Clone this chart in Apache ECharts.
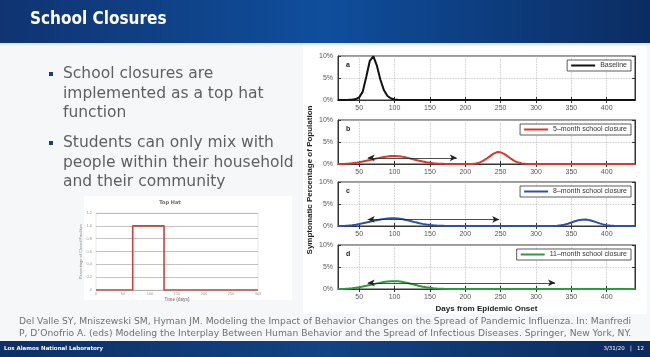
<!DOCTYPE html>
<html>
<head>
<meta charset="utf-8">
<script src="https://cdn.jsdelivr.net/npm/echarts@6/dist/echarts.min.js"></script>
<style>html,body{margin:0;padding:0;background:#f5f7f9;}#c{width:650px;height:357px;}</style>
</head>
<body>
<div id="c"></div>
<script>
// ---- data ----
const days = [20,25,30,35,40,45,50,55,60,65,
  70,75,80,85,90,95,100,105,110,115,
  120,125,130,135,140,145,150,155,160,165,
  170,175,180,185,190,195,200,205,210,215,
  220,225,230,235,240,245,250,255,260,265,
  270,275,280,285,290,295,300,305,310,315,
  320,325,330,335,340,345,350,355,360,365,
  370,375,380,385,390,395,400,405,410,415,
  420,425,430,435,440];
const baseline = [0,0,0.01,0.03,0.08,0.22,0.6,1.9,5.3,8.9,
  9.9,7.8,4.6,2.2,0.9,0.35,0.12,0.04,0.01,0,
  0,0,0,0,0,0,0,0,0,0,
  0,0,0,0,0,0,0,0,0,0,
  0,0,0,0,0,0,0,0,0,0,
  0,0,0,0,0,0,0,0,0,0,
  0,0,0,0,0,0,0,0,0,0,
  0,0,0,0,0,0,0,0,0,0,
  0,0,0,0,0];
const closure5 = [0,0.02,0.05,0.1,0.18,0.28,0.42,0.58,0.75,0.92,
  1.1,1.28,1.45,1.6,1.72,1.8,1.82,1.78,1.68,1.52,
  1.33,1.12,0.92,0.72,0.55,0.4,0.28,0.18,0.11,0.07,
  0.04,0.02,0.01,0,0,0,0,0,0.02,0.1,
  0.3,0.7,1.2,1.8,2.35,2.7,2.65,2.3,1.75,1.15,
  0.65,0.32,0.14,0.05,0.02,0,0,0,0,0,
  0,0,0,0,0,0,0,0,0,0,
  0,0,0,0,0,0,0,0,0,0,
  0,0,0,0,0];
const closure8 = [0,0.02,0.05,0.1,0.18,0.3,0.45,0.62,0.8,0.98,
  1.16,1.33,1.48,1.62,1.72,1.77,1.76,1.7,1.58,1.42,
  1.23,1.03,0.83,0.64,0.48,0.35,0.24,0.16,0.1,0.06,
  0.03,0.02,0.01,0,0,0,0,0,0,0,
  0,0,0,0,0,0,0,0,0,0,
  0,0,0,0,0,0,0,0,0,0,
  0,0.02,0.06,0.15,0.3,0.52,0.8,1.08,1.3,1.44,
  1.46,1.36,1.15,0.88,0.6,0.36,0.2,0.1,0.04,0.02,
  0.01,0,0,0,0];
const closure11 = [0,0.02,0.05,0.1,0.17,0.27,0.4,0.56,0.74,0.92,
  1.1,1.28,1.44,1.58,1.68,1.75,1.78,1.74,1.64,1.49,
  1.3,1.1,0.9,0.7,0.52,0.38,0.26,0.17,0.1,0.06,
  0.03,0.02,0.01,0,0,0,0,0,0,0,
  0,0,0,0,0,0,0,0,0,0,
  0,0,0,0,0,0,0,0,0,0,
  0,0,0,0,0,0,0,0,0,0,
  0,0,0,0,0,0,0,0,0,0,
  0,0,0,0,0];
const seriesNames = ['Baseline','5\u2013month school closure','8\u2013month school closure','11\u2013month school closure'];
const panelLetters = ['a','b','c','d'];
const xTicks = [50,100,150,200,250,300,350,400];
// closure-duration arrows (panels b, c, d)
const arrowStart = [62,62,62];
const arrowEnd = [188,248,327];
const arrowLevel = [1.4,1.5,1.4];
// top hat inset
const hatDays = [0,68,68,126,126,300];
const hatValues = [0,0,1,1,0,0];

// ---- layout / style ----
const seriesData = [baseline, closure5, closure8, closure11];
const colors = ['#111111','#d8392c','#2f52a8','#2e9a3c'];
const gridTops = [56,120,182,245];
const gridH = 44;
const gLeft = 338, gRight = 15;
const txt = '#555';

const chart = echarts.init(document.getElementById('c'), null, {renderer:'canvas'});

const grid = [], xAxis = [], yAxis = [], series = [], legend = [];
gridTops.forEach((t, i) => {
  grid.push({left:gLeft, right:gRight, top:t, height:gridH, show:true, backgroundColor:'#fff', borderColor:'#333', borderWidth:1});
  xAxis.push({gridIndex:i, type:'value', min:20, max:440,
    axisLine:{show:true, lineStyle:{color:'#333', width:1}},
    axisTick:{show:true, inside:true, length:3, customValues:xTicks, lineStyle:{color:'#333'}},
    axisLabel:{customValues:xTicks, fontSize:7, color:txt, margin:5, fontFamily:'Liberation Sans'},
    splitLine:{show:true, lineStyle:{type:'dotted', color:'#b8b8b8', width:0.8}},
    name: i === 3 ? 'Days from Epidemic Onset' : '', nameLocation:'middle', nameGap:16,
    nameTextStyle:{fontSize:8, fontWeight:'bold', color:'#222', fontFamily:'Liberation Sans'}});
  xAxis.push({gridIndex:i, type:'value', min:20, max:440, position:'top',
    axisLine:{show:true, lineStyle:{color:'#333'}},
    axisTick:{show:true, inside:true, length:3, customValues:xTicks, lineStyle:{color:'#333'}},
    axisLabel:{show:false}, splitLine:{show:false}});
  yAxis.push({gridIndex:i, type:'value', min:0, max:10, interval:5,
    axisLine:{show:true, lineStyle:{color:'#333'}},
    axisTick:{show:true, inside:true, length:3, lineStyle:{color:'#333'}},
    axisLabel:{formatter:'{value}%', fontSize:7, color:txt, margin:5, fontFamily:'Liberation Sans'},
    splitLine:{show:true, lineStyle:{type:'dotted', color:'#b8b8b8', width:0.8}}});
  yAxis.push({gridIndex:i, type:'value', min:0, max:10, interval:5, position:'right',
    axisLine:{show:true, lineStyle:{color:'#333'}},
    axisTick:{show:true, inside:true, length:3, lineStyle:{color:'#333'}},
    axisLabel:{show:false}, splitLine:{show:false}});
  const s = {name:seriesNames[i], type:'line', xAxisIndex:i*2, yAxisIndex:i*2,
    data: days.map((d, j) => [d, seriesData[i][j]]),
    showSymbol:false, symbol:'none', lineStyle:{color:colors[i], width:2}, itemStyle:{color:colors[i]}, z:3};
  if (i > 0) {
    const k = i - 1;
    s.markLine = {silent:true, symbol:['arrow','arrow'], symbolSize:[5,7], animation:false,
      lineStyle:{color:'#222', width:0.8, type:'solid'}, label:{show:false},
      data:[[{coord:[arrowStart[k], arrowLevel[k]]},{coord:[arrowEnd[k], arrowLevel[k]]}]]};
  }
  series.push(s);
  legend.push({data:[seriesNames[i]], right:19, top:t+4, backgroundColor:'#fff', borderColor:'#333', borderWidth:0.8,
    borderRadius:0, padding:[2,4,2,4], itemWidth:24, itemHeight:2, icon:'rect', itemGap:0, selectedMode:false,
    textStyle:{fontSize:7, color:'#333', fontFamily:'Liberation Sans'}});
});

// top hat inset
grid.push({left:96, right:392, top:213, height:77, show:true, backgroundColor:'#fff', borderColor:'#ccc', borderWidth:0.5});
xAxis.push({gridIndex:4, type:'value', min:0, max:300, interval:50,
  axisLine:{show:true, lineStyle:{color:'#aaa', width:0.6}}, axisTick:{show:false},
  axisLabel:{fontSize:4, color:'#999', margin:2}, splitLine:{show:false},
  name:'Time (days)', nameLocation:'middle', nameGap:7, nameTextStyle:{fontSize:4.5, color:'#888', fontWeight:'bold'}});
yAxis.push({gridIndex:4, type:'value', min:0, max:1.2, interval:0.2,
  axisLine:{show:false}, axisTick:{show:false},
  axisLabel:{fontSize:4, color:'#999', margin:4, formatter: v => (v===0?'0':v.toFixed(1))},
  splitLine:{show:true, lineStyle:{color:'#9a9a9a', width:0.6}},
  name:'Percentage of Closed Facilities', nameLocation:'middle', nameGap:11, nameTextStyle:{fontSize:4, color:'#888'}});
series.push({name:'Top Hat', type:'line', xAxisIndex:8, yAxisIndex:8,
  data: hatDays.map((d, j) => [d, hatValues[j]]), showSymbol:false, symbol:'none',
  lineStyle:{color:'#c8433a', width:1.6}, z:3});

const bulletLines = [
  ['School closures are','implemented as a top hat','function'],
  ['Students can only mix with','people within their household','and their community']
];
const bulletTops = [74, 143];
const graphic = [
  {type:'rect', z:-20, silent:true, shape:{x:0,y:0,width:650,height:357}, style:{fill:'#f5f7f9'}},
  {type:'rect', z:-19, silent:true, shape:{x:303,y:46,width:344,height:268}, style:{fill:'#ffffff'}},
  {type:'rect', z:-19, silent:true, shape:{x:84,y:196,width:208,height:104}, style:{fill:'#ffffff'}},
  {type:'rect', z:-18, silent:true, shape:{x:0,y:0,width:650,height:43},
    style:{fill:new echarts.graphic.LinearGradient(0,0,1,0,[{offset:0,color:'#0f3471'},{offset:0.5,color:'#0f4e9c'},{offset:1,color:'#0b2c62'}])}},
  {type:'rect', z:-18, silent:true, shape:{x:0,y:43,width:650,height:2}, style:{fill:'#dfe9f4'}},
  {type:'text', silent:true, left:30, top:11, style:{text:'School Closures', fill:'#ffffff', font:'bold 17px "DejaVu Sans Condensed", "DejaVu Sans", sans-serif'}},
  {type:'rect', z:-18, silent:true, shape:{x:0,y:341,width:650,height:16},
    style:{fill:new echarts.graphic.LinearGradient(0,0,1,0,[{offset:0,color:'#0e2f66'},{offset:0.5,color:'#114385'},{offset:1,color:'#0c2a5c'}])}},
  {type:'text', silent:true, left:4, top:346, style:{text:'Los Alamos National Laboratory', fill:'#ffffff', font:'bold 5.5px "DejaVu Sans", sans-serif'}},
  {type:'text', silent:true, right:6, top:346, style:{text:'3/31/20   |   12', fill:'#ffffff', font:'5.5px "DejaVu Sans", sans-serif'}},
  {type:'text', silent:true, x:325, y:322, style:{text:'Del Valle SY, Mniszewski SM, Hyman JM. Modeling the Impact of Behavior Changes on the Spread of Pandemic Influenza. In: Manfredi', fill:'#707070', font:'9.2px "DejaVu Sans", sans-serif', align:'center', verticalAlign:'middle'}},
  {type:'text', silent:true, x:325, y:334, style:{text:'P, D\u2019Onofrio A. (eds) Modeling the Interplay Between Human Behavior and the Spread of Infectious Diseases. Springer, New York, NY.', fill:'#707070', font:'9.2px "DejaVu Sans", sans-serif', align:'center', verticalAlign:'middle'}},
  {type:'text', silent:true, x:310, y:180, rotation:Math.PI/2, style:{text:'Symptomatic Percentage of Population', fill:'#222', font:'bold 8px "Liberation Sans", sans-serif', align:'center', verticalAlign:'middle'}},
  {type:'text', silent:true, x:170, y:203, style:{text:'Top Hat', fill:'#666', font:'bold 5px "DejaVu Sans", sans-serif', align:'center', verticalAlign:'middle'}}
];
bulletLines.forEach((lines, b) => {
  graphic.push({type:'rect', silent:true, shape:{x:49, y:bulletTops[b]-2, width:4, height:4}, style:{fill:'#1d3c72'}});
  lines.forEach((ln, j) => {
    graphic.push({type:'text', silent:true, x:63, y:bulletTops[b] + j*19.5, style:{text:ln, fill:'#5f5f5f', font:'15.5px "DejaVu Sans", sans-serif', verticalAlign:'middle'}});
  });
});
panelLetters.forEach((l, i) => {
  graphic.push({type:'text', silent:true, x:346, y:gridTops[i]+9, style:{text:l, fill:'#222', font:'bold 7px "Liberation Sans", sans-serif', verticalAlign:'middle'}});
});

chart.setOption({
  animation:false,
  backgroundColor:'#f5f7f9',
  grid, xAxis, yAxis, series, legend, graphic
});
</script>
</body>
</html>
